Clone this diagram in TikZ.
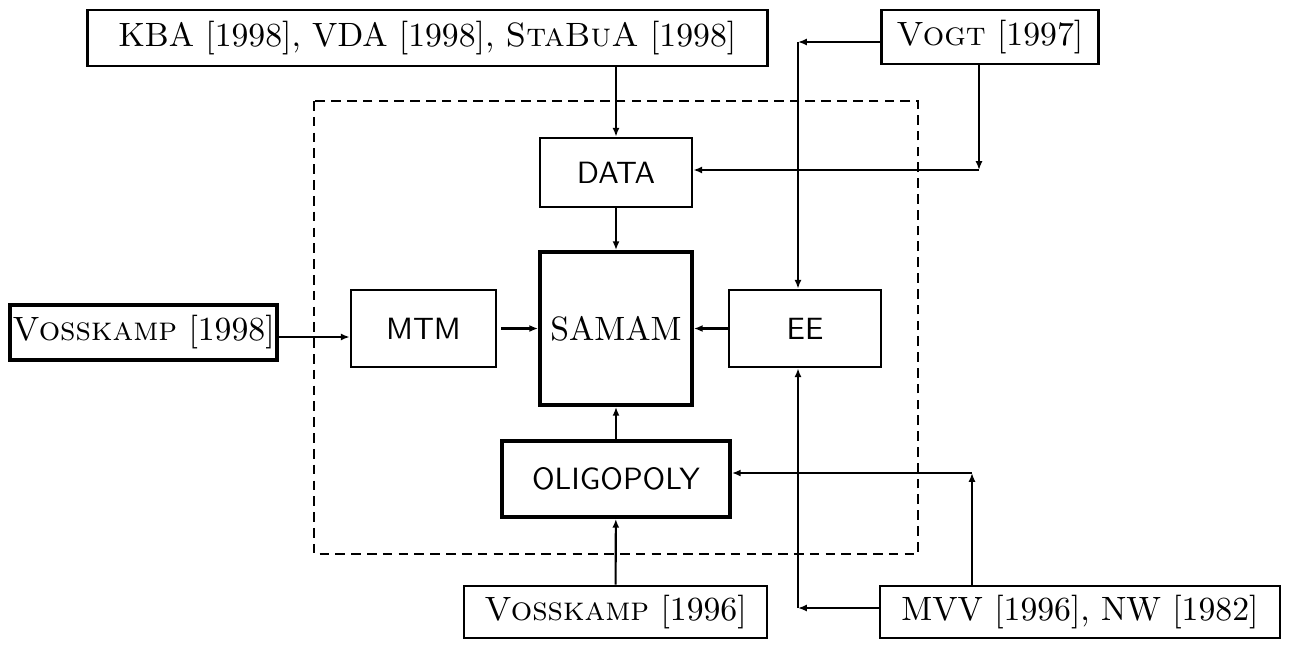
\documentclass[tikz,border=0pt]{standalone}
\usepackage{fontspec}
\setmainfont{lmroman10}[Extension=.otf,UprightFont=*-regular,SmallCapsFont=lmromancaps10-regular]
\setsansfont{lmsans10}[Extension=.otf,UprightFont=*-regular]
\usetikzlibrary{arrows.meta}
\begin{document}
\begin{tikzpicture}[x=0.02cm,y=-0.02cm,
  ref/.style={draw,line width=1.5pt,inner sep=0pt,font=\fontsize{19.2}{22}\selectfont},
  refthick/.style={ref,line width=2.2pt},
  mod/.style={draw,line width=1.5pt,inner sep=0pt,font=\fontsize{17.5}{20}\selectfont\sffamily},
  modthick/.style={mod,line width=2.2pt},
  arr/.style={line width=1.2pt,-{Latex[length=5pt,width=4pt]}}]
\useasboundingbox (0,0) rectangle (1291,650);
\draw[line width=1.6pt,dash pattern=on 5.5pt off 3.5pt] (314,101) rectangle (918,554);
\node[ref,minimum width=680*0.02cm,minimum height=56*0.02cm] (kba) at (427.5,38) {KBA [1998], VDA [1998], \textsc{StaBuA} [1998]};
\node[ref,inner xsep=0.3cm,minimum height=54*0.02cm,anchor=west] (vogt) at (880,37) {\textsc{Vogt} [1997]};
\node[refthick,minimum width=267*0.02cm,minimum height=55*0.02cm] (v98) at (143.5,332.5) {\textsc{Vosskamp} [1998]};
\node[ref,minimum width=303*0.02cm,minimum height=52*0.02cm] (v96) at (615.5,612) {\textsc{Vosskamp} [1996]};
\node[ref,minimum width=400*0.02cm,minimum height=52*0.02cm] (mvv) at (1080,612) {MVV [1996], NW [1982]};
\node[mod,minimum width=152*0.02cm,minimum height=69*0.02cm] (data) at (616,172.5) {DATA};
\node[refthick,font=\fontsize{19.2}{22}\selectfont,minimum width=152*0.02cm,minimum height=153*0.02cm] (samam) at (616,328.5) {SAMAM};
\node[mod,minimum width=145*0.02cm,minimum height=77*0.02cm] (mtm) at (423.5,328.5) {MTM};
\node[mod,minimum width=152*0.02cm,minimum height=77*0.02cm] (ee) at (805,328.5) {EE};
\node[modthick,minimum width=228*0.02cm,minimum height=76*0.02cm] (oli) at (616,479) {OLIGOPOLY};
\coordinate (c1) at (798,42);
\coordinate (c2) at (979,170);
\coordinate (c3) at (798,608);
\coordinate (c4) at (972,473);
\coordinate (c5) at (501,328.5);
\draw[arr] (data.north |- kba.south) -- (data.north);
\draw[arr] (vogt.west |- c1) -- (c1);
\draw[arr] (c1) -- (c1 |- ee.north);
\draw[arr] (c2 |- vogt.south) -- (c2);
\draw[arr] (c2) -- (data.east |- c2);
\draw[arr] (data) -- (samam);
\draw[arr] (v98.east |- 0,337) -- (mtm.west |- 0,337);
\draw[arr] (c5) -- (samam.west);
\draw[arr] (ee) -- (samam);
\draw[arr] (oli) -- (samam);
\draw[arr] (v96) -- (oli);
\draw[arr] (mvv.west |- c3) -- (c3);
\draw[arr] (c3) -- (c3 |- ee.south);
\draw[arr] (c4 |- mvv.north) -- (c4);
\draw[arr] (c4) -- (oli.east |- c4);
\end{tikzpicture}
\end{document}
